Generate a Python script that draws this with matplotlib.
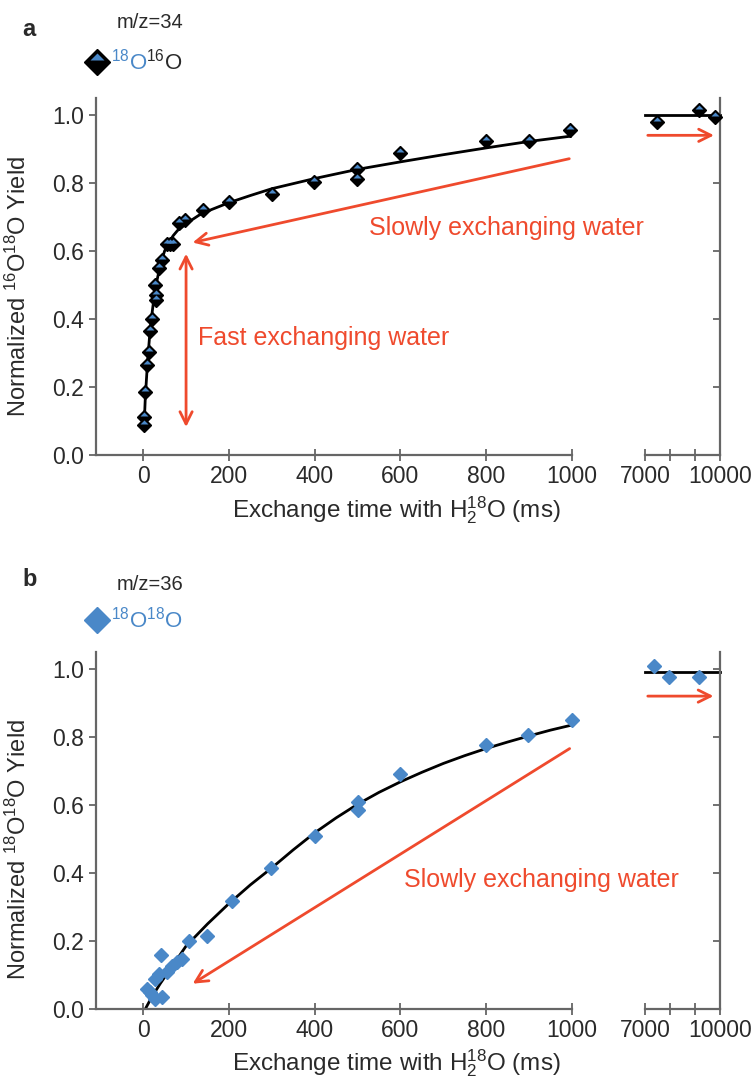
import matplotlib
matplotlib.use('Agg')
from matplotlib import pyplot as plt
from matplotlib.markers import MarkerStyle
from matplotlib.transforms import Affine2D

plt.rcParams['font.family'] = ['Liberation Sans', 'DejaVu Sans']
plt.rcParams['mathtext.fontset'] = 'custom'
plt.rcParams['mathtext.rm'] = 'Liberation Sans'
plt.rcParams['mathtext.it'] = 'Liberation Sans:italic'
plt.rcParams['mathtext.bf'] = 'Liberation Sans:bold'

# panel a: m/z=34 (16O18O)
a_x = [2, 3, 5, 10, 14, 16, 20, 28, 30, 31, 38, 43, 55, 62, 70, 83, 98, 139, 200, 301, 399, 499, 499, 599, 799, 899, 995]
a_y = [0.088, 0.113, 0.186, 0.265, 0.304, 0.366, 0.40, 0.50, 0.456, 0.47, 0.55, 0.574, 0.62, 0.62, 0.62, 0.681, 0.691, 0.719, 0.745, 0.767, 0.804, 0.84, 0.811, 0.889, 0.922, 0.924, 0.956]
a_fit_x = [2, 5, 10, 15, 20, 25, 30, 40, 50, 60, 70, 80, 100, 130, 160, 200, 250, 300, 400, 500, 600, 700, 800, 900, 1000]
a_fit_y = [0.08, 0.17, 0.27, 0.35, 0.41, 0.46, 0.50, 0.56, 0.60, 0.625, 0.645, 0.66, 0.68, 0.705, 0.722, 0.742, 0.763, 0.783, 0.813, 0.84, 0.862, 0.883, 0.903, 0.922, 0.938]
a_long_x = [7470, 9170, 9800]
a_long_y = [0.98, 1.015, 0.993]
a_long_fit_x = [7000, 10000]
a_long_fit_y = [1.0, 1.0]

# panel b: m/z=36 (18O18O)
b_x = [8, 15, 20, 28, 28, 36, 41, 44, 55, 67, 78, 90, 107, 148, 207, 298, 401, 500, 500, 599, 800, 897, 1000]
b_y = [0.06, 0.05, 0.04, 0.088, 0.03, 0.103, 0.16, 0.034, 0.108, 0.125, 0.137, 0.147, 0.20, 0.214, 0.318, 0.414, 0.51, 0.61, 0.585, 0.69, 0.775, 0.805, 0.85]
b_fit_x = [5, 20, 40, 70, 100, 150, 200, 250, 300, 350, 400, 450, 500, 550, 600, 650, 700, 750, 800, 850, 900, 950, 1000]
b_fit_y = [0.0, 0.035, 0.075, 0.13, 0.185, 0.25, 0.31, 0.365, 0.415, 0.468, 0.518, 0.562, 0.602, 0.637, 0.668, 0.696, 0.722, 0.745, 0.766, 0.785, 0.803, 0.82, 0.835]
b_long_x = [7350, 7950, 9150]
b_long_y = [1.01, 0.975, 0.975]
b_long_fit_x = [7000, 10000]
b_long_fit_y = [0.99, 0.99]

main_ticks = [0, 200, 400, 600, 800, 1000]
long_ticks = [7000, 8000, 9000, 10000]
long_labels = ['7000', '', '', '10000']
y_ticks = [0.0, 0.2, 0.4, 0.6, 0.8, 1.0]

red = '#ef4a2d'
blue = '#4a88c8'
txt = '#2a2a2a'
axc = '#666666'
fs = 16.5
fs_ann = 18

fig = plt.figure(figsize=(7.56, 10.82), dpi=100)

# blue cap on top of the black diamond
cap = MarkerStyle('^', transform=Affine2D().scale(0.8, 0.4).translate(0, 0.32))


def style_axes(ax, ax2):
    ax.set_xlim(-110, 1000)
    ax.set_ylim(0, 1.05)
    ax.patch.set_visible(False)
    ax.spines['top'].set_visible(False)
    ax.spines['right'].set_visible(False)
    ax.set_xticks(main_ticks)
    ax.set_yticks(y_ticks)
    ax.set_yticklabels(['%.1f' % t for t in y_ticks])
    ax.tick_params(labelsize=fs, width=1.3, colors=axc, labelcolor=txt)
    ax.tick_params(axis='x', direction='inout', length=8)
    ax.tick_params(axis='y', direction='out', length=5)
    for s in ['left', 'bottom']:
        ax.spines[s].set_linewidth(1.6)
        ax.spines[s].set_color(axc)

    ax2.set_xlim(7000, 10000)
    ax2.set_ylim(0, 1.05)
    ax2.patch.set_visible(False)
    ax2.spines['top'].set_visible(False)
    ax2.spines['left'].set_visible(False)
    ax2.set_xticks(long_ticks)
    ax2.set_xticklabels(long_labels)
    ax2.yaxis.tick_right()
    ax2.set_yticks(y_ticks)
    ax2.set_yticklabels([])
    ax2.tick_params(labelsize=fs, width=1.3, colors=axc, labelcolor=txt)
    ax2.tick_params(axis='x', direction='inout', length=8)
    ax2.tick_params(axis='y', direction='in', length=5)
    for s in ['right', 'bottom']:
        ax2.spines[s].set_linewidth(1.6)
        ax2.spines[s].set_color(axc)


# ---------- panel a ----------
axA = fig.add_axes([0.127, 0.5795, 0.6296, 0.33])
axA2 = fig.add_axes([0.8532, 0.5795, 0.0992, 0.33])
style_axes(axA, axA2)

axA.plot(a_fit_x, a_fit_y, c='black', lw=2, zorder=2)
axA.plot(a_x, a_y, ls='none', marker='D', ms=7, mfc='black', mec='black', clip_on=False, zorder=3)
axA.plot(a_x, a_y, ls='none', marker=cap, ms=7, mfc=blue, mec='none', clip_on=False, zorder=4)
axA2.plot(a_long_fit_x, a_long_fit_y, c='black', lw=2, clip_on=False, zorder=2)
axA2.plot(a_long_x, a_long_y, ls='none', marker='D', ms=7, mfc='black', mec='black', clip_on=False, zorder=3)
axA2.plot(a_long_x, a_long_y, ls='none', marker=cap, ms=7, mfc=blue, mec='none', clip_on=False, zorder=4)

axA.annotate('', xy=(109, 0.623), xytext=(1000, 0.873),
             arrowprops=dict(arrowstyle='->', color=red, lw=2, mutation_scale=22))
axA.text(847, 0.667, 'Slowly exchanging water', color=red, fontsize=fs_ann, ha='center', va='center')
axA.annotate('', xy=(100, 0.074), xytext=(100, 0.60),
             arrowprops=dict(arrowstyle='<->', color=red, lw=2, mutation_scale=22))
axA.text(128, 0.344, 'Fast exchanging water', color=red, fontsize=fs_ann, ha='left', va='center')
axA2.annotate('', xy=(9870, 0.94), xytext=(7000, 0.94),
              arrowprops=dict(arrowstyle='->', color=red, lw=2, mutation_scale=22), annotation_clip=False)

fig.text(18 / 756, 1 - 287 / 1082, r'Normalized $^{16}$O$^{18}$O Yield', fontsize=17, color=txt,
         rotation=90, ha='center', va='center')
fig.text(396 / 756, 1 - 510 / 1082, r'Exchange time with H$_2^{18}$O (ms)', fontsize=17.5,
         ha='center', va='center', color=txt)

fig.text(22 / 756, 1 - 30 / 1082, 'a', fontsize=17, fontweight='bold', ha='left', va='center', color=txt)
fig.text(150 / 756, 1 - 22 / 1082, 'm/z=34', fontsize=14.5, ha='center', va='center', color=txt)
axA.plot([97 / 756], [1 - 62 / 1082], transform=fig.transFigure, marker='D', ms=13,
         mfc='black', mec='black', clip_on=False)
axA.plot([97 / 756], [1 - 62 / 1082], transform=fig.transFigure, marker=cap, ms=13,
         mfc=blue, mec='none', clip_on=False)
fig.text(111 / 756, 1 - 62 / 1082, r'$^{18}$O', fontsize=16, color=blue, ha='left', va='center')
fig.text(146 / 756, 1 - 62 / 1082, r'$^{16}$O', fontsize=16, color=txt, ha='left', va='center')

# ---------- panel b ----------
axB = fig.add_axes([0.127, 0.0675, 0.6296, 0.33])
axB2 = fig.add_axes([0.8532, 0.0675, 0.0992, 0.33])
style_axes(axB, axB2)

axB.plot(b_fit_x, b_fit_y, c='black', lw=2, zorder=2)
axB.plot(b_x, b_y, ls='none', marker='D', ms=7, mfc=blue, mec=blue, clip_on=False, zorder=3)
axB2.plot(b_long_fit_x, b_long_fit_y, c='black', lw=2, clip_on=False, zorder=2)
axB2.plot(b_long_x, b_long_y, ls='none', marker='D', ms=7, mfc=blue, mec=blue, clip_on=False, zorder=3)

axB.annotate('', xy=(110, 0.07), xytext=(1000, 0.77),
             arrowprops=dict(arrowstyle='->', color=red, lw=2, mutation_scale=22))
axB.text(928, 0.38, 'Slowly exchanging water', color=red, fontsize=fs_ann, ha='center', va='center')
axB2.annotate('', xy=(9850, 0.92), xytext=(7000, 0.92),
              arrowprops=dict(arrowstyle='->', color=red, lw=2, mutation_scale=22), annotation_clip=False)

fig.text(18 / 756, 1 - 850 / 1082, r'Normalized $^{18}$O$^{18}$O Yield', fontsize=17, color=txt,
         rotation=90, ha='center', va='center')
fig.text(396 / 756, 1 - 1063 / 1082, r'Exchange time with H$_2^{18}$O (ms)', fontsize=17.5,
         ha='center', va='center', color=txt)

fig.text(22 / 756, 1 - 580 / 1082, 'b', fontsize=17, fontweight='bold', ha='left', va='center', color=txt)
fig.text(150 / 756, 1 - 584 / 1082, 'm/z=36', fontsize=14.5, ha='center', va='center', color=txt)
axB.plot([97 / 756], [1 - 620 / 1082], transform=fig.transFigure, marker='D', ms=13,
         mfc=blue, mec=blue, clip_on=False)
fig.text(111 / 756, 1 - 620 / 1082, r'$^{18}$O$^{18}$O', fontsize=16, color=blue, ha='left', va='center')

fig.savefig('out.png', dpi=100)
